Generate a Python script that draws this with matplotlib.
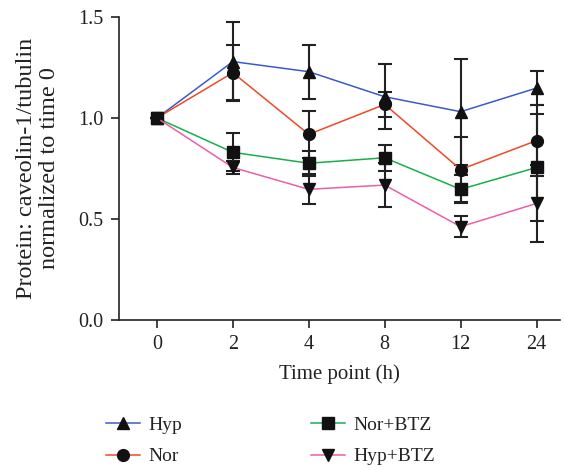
import matplotlib
matplotlib.use('Agg')
import matplotlib.pyplot as plt
import numpy as np

time_labels = ['0', '2', '4', '8', '12', '24']

hyp = [1.0, 1.279, 1.229, 1.105, 1.031, 1.148]
hyp_err = [0.0, 0.196, 0.134, 0.162, 0.263, 0.085]

nor = [1.0, 1.224, 0.919, 1.067, 0.745, 0.888]
nor_err = [0.0, 0.136, 0.116, 0.063, 0.161, 0.176]

nor_btz = [1.0, 0.830, 0.776, 0.803, 0.647, 0.755]
nor_btz_err = [0.0, 0.094, 0.062, 0.064, 0.070, 0.265]

hyp_btz = [1.0, 0.755, 0.647, 0.668, 0.462, 0.577]
hyp_btz_err = [0.0, 0.030, 0.075, 0.110, 0.053, 0.190]

plt.rcParams['font.family'] = ['Liberation Serif', 'DejaVu Serif']
plt.rcParams['font.size'] = 14

fig = plt.figure(figsize=(5.64, 4.70), dpi=100)
ax = fig.add_axes([0.211, 0.319, 0.782, 0.645])

x = np.arange(len(time_labels))
series = [
    ('Hyp', hyp, hyp_err, '#3a5bc7', '^', 8.5),
    ('Nor', nor, nor_err, '#ee4a27', 'o', 8.5),
    ('Nor+BTZ', nor_btz, nor_btz_err, '#16b04b', 's', 9),
    ('Hyp+BTZ', hyp_btz, hyp_btz_err, '#ec5fa8', 'v', 8.5),
]

handles = []
for i, (name, vals, err, col, mk, ms) in enumerate(series):
    ax.errorbar(x, vals, yerr=err, fmt='none', ecolor='#222222',
                elinewidth=1.5, capsize=5, capthick=1.5, zorder=3)
    h, = ax.plot(x, vals, '-', color=col, lw=1.1, marker=mk, ms=ms,
                 mfc='#111111', mec='#111111', zorder=4 + i, label=name)
    handles.append(h)

ax.set_xlim(-0.5, 5.31)
ax.set_ylim(0, 1.5)
ax.set_yticks([0.0, 0.5, 1.0, 1.5])
ax.set_yticklabels(['0.0', '0.5', '1.0', '1.5'])
ax.set_xticks(x)
ax.set_xticklabels(time_labels)
ax.spines['top'].set_visible(False)
ax.spines['right'].set_visible(False)
for s in ['left', 'bottom']:
    ax.spines[s].set_linewidth(1.2)
    ax.spines[s].set_color('#222222')
ax.tick_params(direction='out', length=6, width=1.2, color='#222222',
               labelcolor='#222222', labelsize=14.5, pad=5)

ax.set_xlabel('Time point (h)', color='#222222', fontsize=15, labelpad=7)
ax.set_ylabel('Protein: caveolin-1/tubulin\nnormalized to time 0',
              color='#222222', fontsize=17.5, labelpad=13, linespacing=1.15)

fig.legend(handles=handles, loc='center', bbox_to_anchor=(0.48, 0.062),
           ncol=2, frameon=False, columnspacing=6.6, handlelength=1.75,
           handletextpad=0.45, labelspacing=0.72, labelcolor='#222222',
           fontsize=14)

fig.savefig('out.png', dpi=100)
